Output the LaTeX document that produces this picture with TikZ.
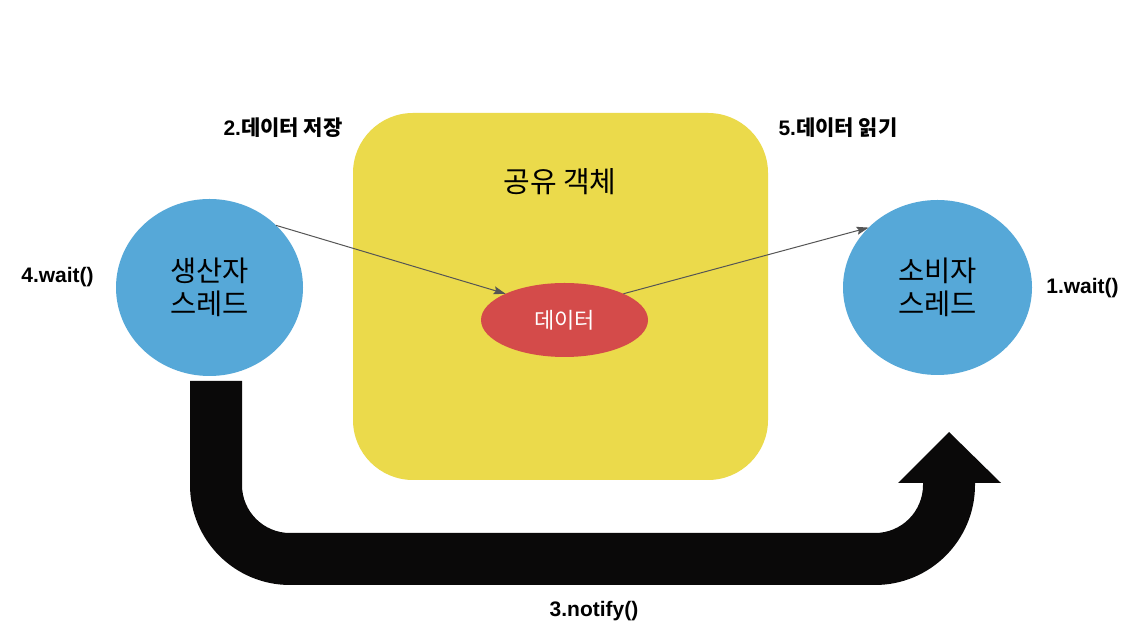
\documentclass[tikz,border=0pt]{standalone}
\usepackage{fontspec}
\setmainfont{Noto Sans CJK KR}
\newfontfamily\lat{Liberation Sans}
\usetikzlibrary{shapes.geometric,arrows.meta}
\definecolor{ybox}{HTML}{EBDA4B}
\definecolor{tblue}{HTML}{56A8D8}
\definecolor{dred}{HTML}{D44B4A}
\definecolor{cgray}{HTML}{555555}
\definecolor{bigblk}{HTML}{0A0909}
\tikzset{
  thread/.style={ellipse, fill=tblue, inner sep=0pt, outer sep=0pt, align=center,
    font=\fontsize{28.5}{33}\selectfont},
  lbl/.style={font=\bfseries\fontsize{21}{24}\selectfont, inner sep=0pt},
  conn/.style={draw=cgray, line width=1pt, -{Stealth[length=12pt,width=8pt,inset=2pt]}},
}
\begin{document}
\begin{tikzpicture}[x=1pt,y=1pt]
\useasboundingbox (0,0) rectangle (1142,628);
\fill[white] (0,0) rectangle (1142,628);
% shared object box
\node[rectangle, rounded corners=60pt, fill=ybox, inner sep=0pt, outer sep=0pt,
  minimum width=415pt, minimum height=367pt] (box) at (560.5,331.5) {};
\node[font=\fontsize{29}{34}\selectfont] (title) at (560,446) {공유 객체};
% threads
\node[thread, minimum width=187pt, minimum height=177pt] (prod) at (209.5,340.5) {생산자\\스레드};
\node[thread, minimum width=189pt, minimum height=175pt] (cons) at (937.5,340.5) {소비자\\스레드};
% data
\node[ellipse, fill=dred, inner sep=0pt, outer sep=0pt, minimum width=167pt, minimum height=74pt,
  text=white, font=\fontsize{22}{26}\selectfont] (data) at (564.5,308) {데이터};
% connectors
\draw[conn] (prod.43) -- (data.156);
\draw[conn] (data.24) -- (cons.139);
% big U arrow
\fill[bigblk] (190,247) -- (242,247) -- (242,143)
  arc[start angle=180, end angle=270, radius=48pt] -- (875,95)
  arc[start angle=270, end angle=360, radius=48pt] -- (923,145) -- (898,145)
  -- (949,196) -- (1001,145) -- (975,145) -- (975,143)
  arc[start angle=0, end angle=-90, radius=100pt] -- (290,43)
  arc[start angle=270, end angle=180, radius=100pt] -- cycle;
% labels
\node[lbl] (l2) at (283,500) {{\lat 2.}데이터 저장};
\node[lbl] (l5) at (838,500) {{\lat 5.}데이터 읽기};
\node[lbl] (l4) at (57.5,351) {\lat 4.wait()};
\node[lbl] (l1) at (1082.5,340) {\lat 1.wait()};
\node[lbl] (l3) at (594,17) {\lat 3.notify()};
\end{tikzpicture}
\end{document}
